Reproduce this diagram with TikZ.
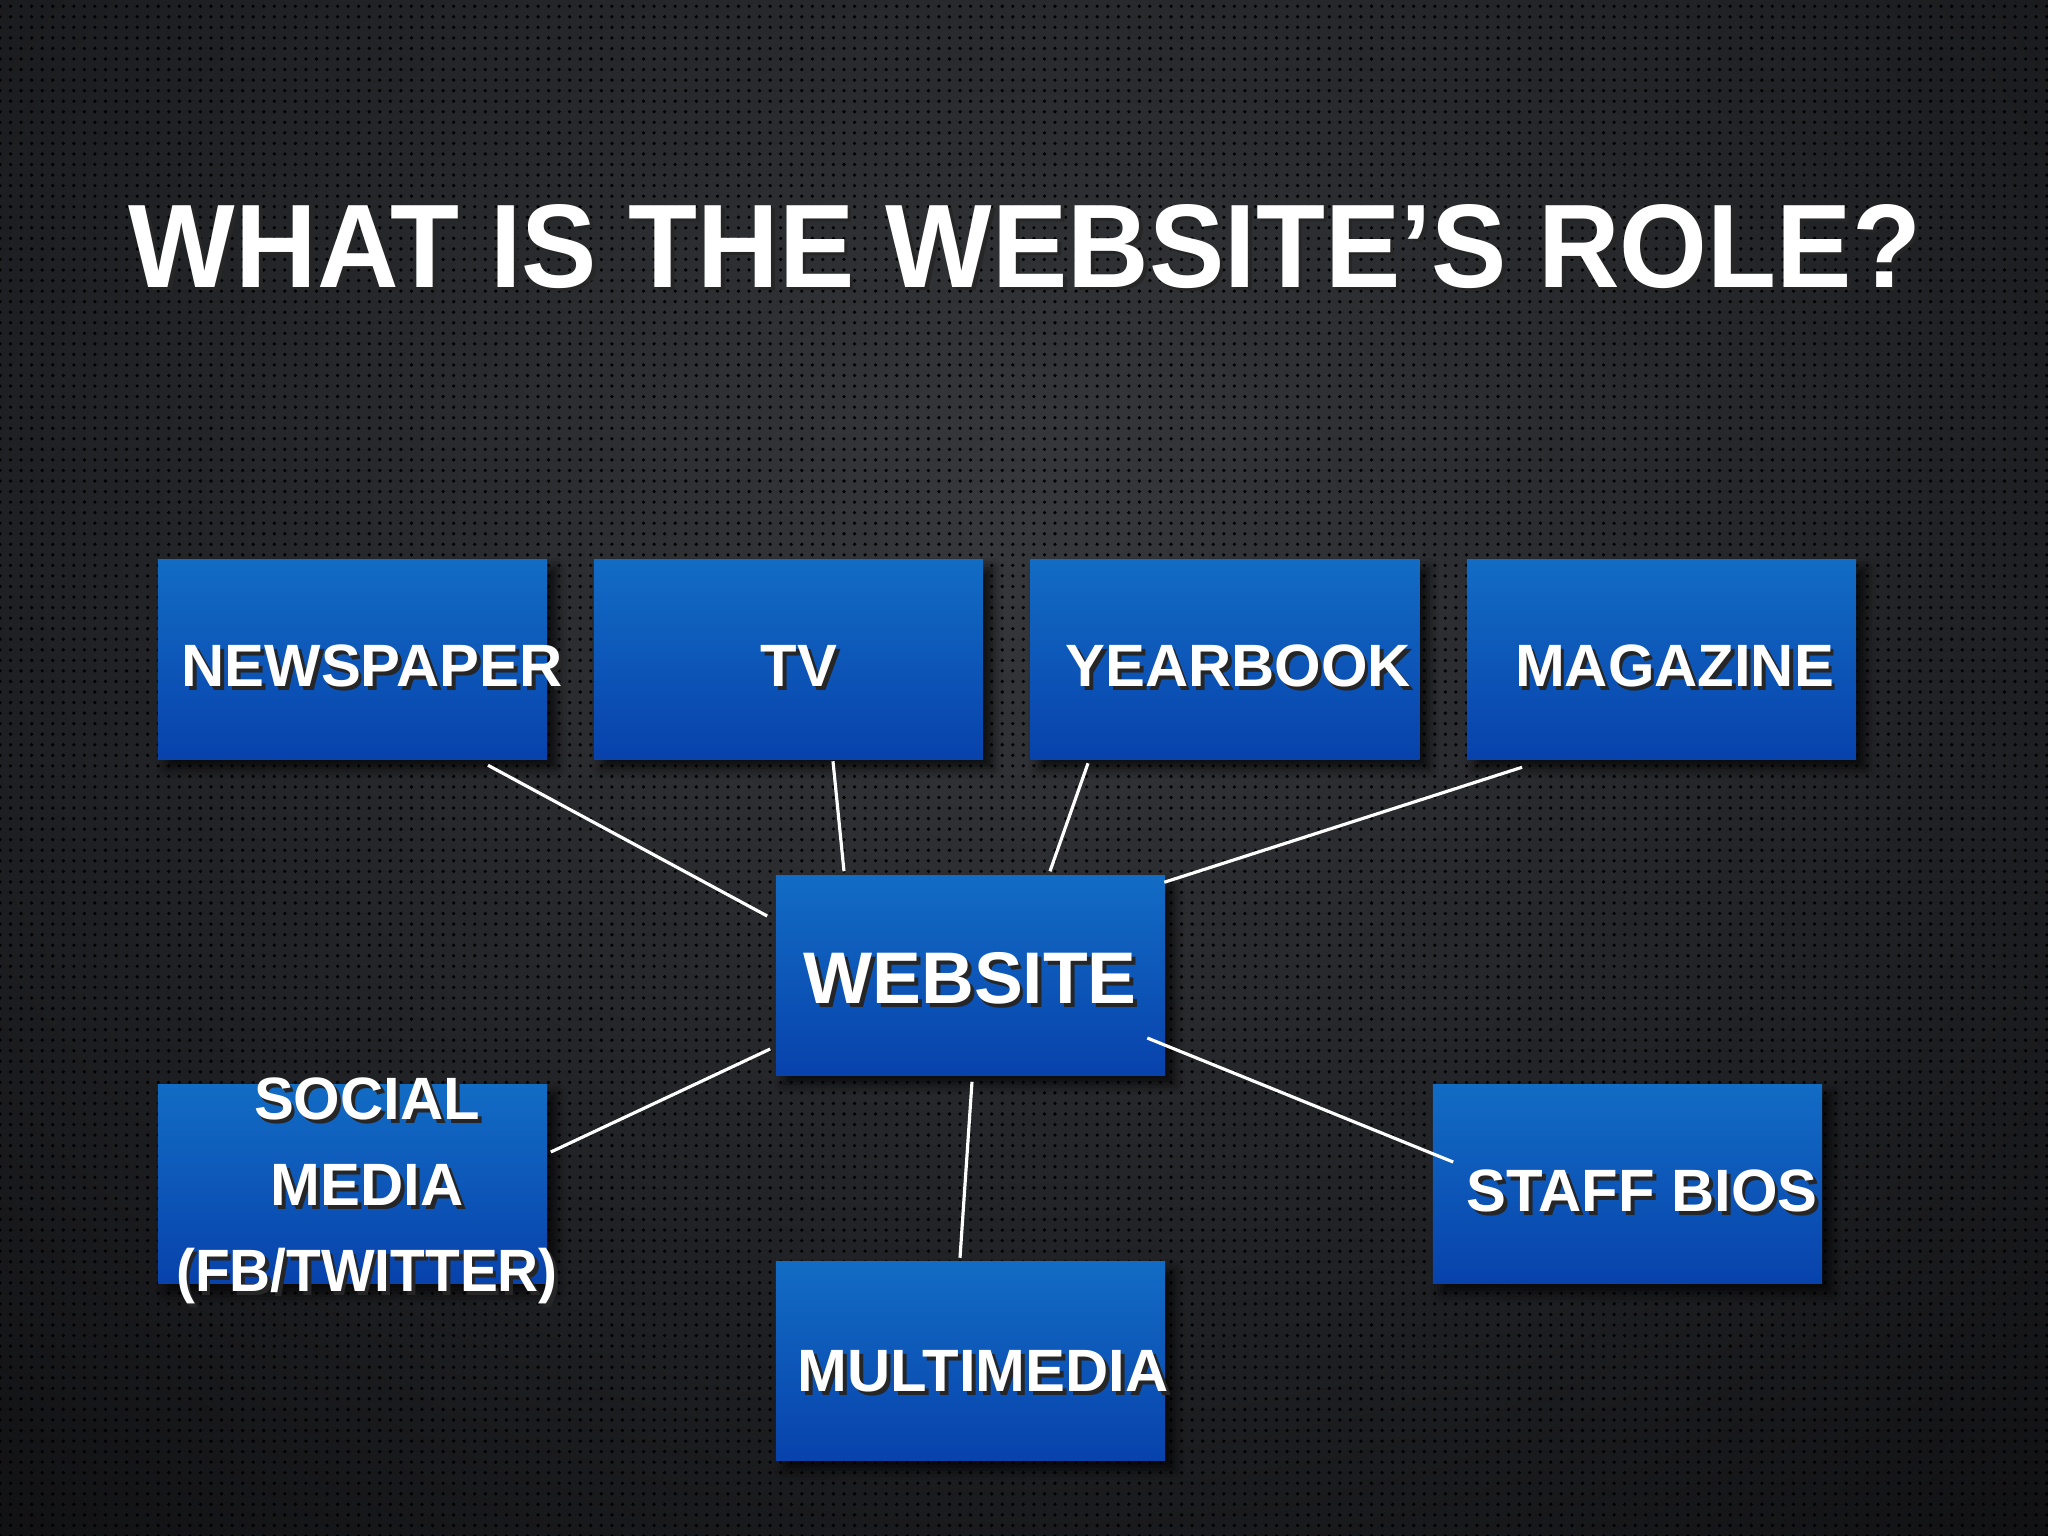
\documentclass[tikz,border=0pt]{standalone}
\usepackage{fontspec}
\setmainfont{Liberation Sans}
\usepackage{graphicx}
\usepackage{xcolor}
\usepackage{tikz}
\usetikzlibrary{calc, patterns, shadows.blur}

\definecolor{bgmid}{RGB}{54,56,60}
\definecolor{bgedge}{RGB}{6,6,8}
\definecolor{boxtop}{RGB}{18,108,196}
\definecolor{boxbot}{RGB}{8,66,172}

% white text with a dark drop copy behind it
\newcommand{\shtext}[1]{\rlap{\kern1.1pt\raisebox{-1.1pt}{\color{black!85}#1}}#1}

\begin{document}
\begin{tikzpicture}[x=0.01cm,y=-0.01cm,
  box/.style={rectangle, inner sep=0pt, minimum width=3.89cm, minimum height=1.99cm,
    top color=boxtop, bottom color=boxbot,
    blur shadow={shadow xshift=2.5pt, shadow yshift=-2.5pt, shadow blur radius=3pt, shadow opacity=75}},
  lbl/.style={inner sep=0pt, text=white, align=center, font=\bfseries\fontsize{17}{24.5}\selectfont},
  link/.style={draw=white, line width=0.9pt}]
\useasboundingbox (0,0) rectangle (2048,1536);

%Background: dark perforated plate
\fill[bgedge] (0,0) rectangle (2048,1536);
\begin{scope}
\clip (0,0) rectangle (2048,1536);
\shade[inner color=bgmid, outer color=bgedge] (1024,520) ellipse [x radius=2100, y radius=1700];
\end{scope}
\fill[pattern=dots, pattern color=black] (0,0) rectangle (2048,1536);

% Text Node
\node (title) at (1025,287) [anchor=base, text=white, font=\bfseries\fontsize{33.8}{40}\selectfont]
  {\scalebox{0.95}[1]{\shtext{WHAT IS THE WEBSITE’S ROLE?}}};

%Shape: Rectangle
\node[box] (news) at (352.5,659.5) {};
%Shape: Rectangle
\node[box] (tv) at (788.5,659.5) {};
%Shape: Rectangle
\node[box] (yearbook) at (1225,659.5) {};
%Shape: Rectangle
\node[box] (magazine) at (1661.5,659.5) {};
%Shape: Rectangle
\node[box] (website) at (970.5,975.5) {};
%Shape: Rectangle
\node[box] (social) at (352.5,1184) {};
%Shape: Rectangle
\node[box] (multimedia) at (970.5,1361) {};
%Shape: Rectangle
\node[box] (staff) at (1627.5,1184) {};

%Straight Lines
\draw[link] ($(news.south)+(135.5,5.5)$) -- ($(website.west)+(-8,-59.5)$);
%Straight Lines
\draw[link] ($(tv.south)+(44.5,1.5)$) -- ($(website.north)+(-126.5,-4)$);
%Straight Lines
\draw[link] ($(yearbook.south)+(-137,3.5)$) -- ($(website.north)+(79.5,-4)$);
%Straight Lines
\draw[link] ($(magazine.south)+(-139.5,7.5)$) -- ($(website.north east)+(-1.5,7)$);
%Straight Lines
\draw[link] ($(social.east)+(3,-32)$) -- ($(website.west)+(-5,73.5)$);
%Straight Lines
\draw[link] ($(multimedia.north)+(-10.5,-3)$) -- ($(website.south)+(1.5,6)$);
%Straight Lines
\draw[link] ($(staff.west)+(21,-22)$) -- ($(website.east)+(-18.5,62.5)$);

% Text Node
\node (tnews) at (372,668) [lbl] {\shtext{NEWSPAPER}};
% Text Node
\node (ttv) at (799,668) [lbl] {\shtext{TV}};
% Text Node
\node (tyearbook) at (1238,668) [lbl] {\shtext{YEARBOOK}};
% Text Node
\node (tmagazine) at (1674.5,668) [lbl] {\shtext{MAGAZINE}};
% Text Node
\node (twebsite) at (970,980) [lbl, font=\bfseries\fontsize{20.8}{25}\selectfont] {\shtext{WEBSITE}};
% Text Node
\node (tsocial) at (367,1193) [lbl] {\shtext{SOCIAL}\\\shtext{MEDIA}\\\scalebox{0.95}[1]{\shtext{(FB/TWITTER)}}};
% Text Node
\node (tmultimedia) at (983,1373) [lbl] {\shtext{MULTIMEDIA}};
% Text Node
\node (tstaff) at (1642,1193) [lbl] {\shtext{STAFF BIOS}};

\end{tikzpicture}
\end{document}
